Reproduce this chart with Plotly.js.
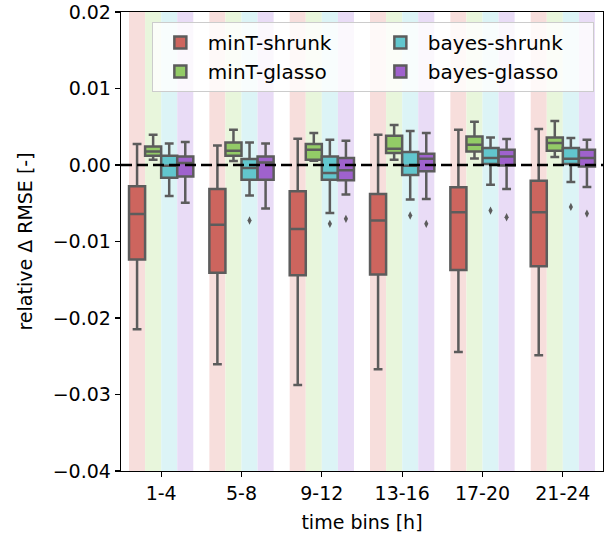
<!DOCTYPE html>
<html><head><meta charset="utf-8">
<script src="https://cdn.plot.ly/plotly-3.0.1.min.js"></script>
<style>html,body{margin:0;padding:0;background:#fff}#chart{width:611px;height:538px}</style>
</head><body><div id="chart"></div>
<script>
const timeBins = ['1-4', '5-8', '9-12', '13-16', '17-20', '21-24'];
const seriesNames = ['minT-shrunk', 'minT-glasso', 'bayes-shrunk', 'bayes-glasso'];

// minT-shrunk
const mintShrunkUpper = [0.00274, 0.00256, 0.00343, 0.00395, 0.0046, 0.00469];
const mintShrunkQ3 = [-0.00279, -0.00313, -0.00344, -0.00378, -0.00292, -0.00205];
const mintShrunkMedian = [-0.00639, -0.00782, -0.00835, -0.00726, -0.00618, -0.00618];
const mintShrunkQ1 = [-0.01235, -0.01408, -0.0144, -0.0143, -0.01374, -0.01322];
const mintShrunkLower = [-0.02147, -0.02603, -0.02877, -0.02669, -0.02443, -0.02486];
const mintShrunkOutliers = [null, null, null, null, null, null];

// minT-glasso
const mintGlassoUpper = [0.00395, 0.0046, 0.00417, 0.00522, 0.00565, 0.00574];
const mintGlassoQ3 = [0.00243, 0.00295, 0.00274, 0.00382, 0.00373, 0.0036];
const mintGlassoMedian = [0.00177, 0.00186, 0.002, 0.00213, 0.00265, 0.00287];
const mintGlassoQ1 = [0.00121, 0.00121, 0.00069, 0.00156, 0.00177, 0.00186];
const mintGlassoLower = [0.00069, 0.00052, 0.00056, 0.00069, 0.00086, 0.00104];
const mintGlassoOutliers = [null, null, null, null, null, null];

// bayes-shrunk
const bayesShrunkUpper = [0.00282, 0.00295, 0.0033, 0.00443, 0.0036, 0.00352];
const bayesShrunkQ3 = [0.00121, 0.00078, 0.00112, 0.00169, 0.00222, 0.00222];
const bayesShrunkMedian = [-0.0001, -0.00039, -0.00104, -0.0001, 0.00091, 0.00082];
const bayesShrunkQ1 = [-0.00166, -0.00192, -0.00192, -0.0013, 0.00013, 0.00013];
const bayesShrunkLower = [-0.00404, -0.004, -0.00626, -0.00452, -0.00257, -0.00222];
const bayesShrunkOutliers = [null, -0.00726, -0.00769, -0.00661, -0.00596, -0.00548];

// bayes-glasso
const bayesGlassoUpper = [0.003, 0.00282, 0.00317, 0.00417, 0.00339, 0.0033];
const bayesGlassoQ3 = [0.00112, 0.00112, 0.00091, 0.00147, 0.002, 0.002];
const bayesGlassoMedian = [0.00026, 0.00034, -0.0007, 0.00082, 0.00112, 0.00091];
const bayesGlassoQ1 = [-0.00149, -0.00192, -0.002, -0.00083, -0.00005, -0.00018];
const bayesGlassoLower = [-0.00492, -0.0057, -0.00387, -0.00443, -0.00313, -0.00287];
const bayesGlassoOutliers = [null, null, -0.00704, -0.00769, -0.00683, -0.00635];

const yTickVals = [-0.04, -0.03, -0.02, -0.01, 0, 0.01, 0.02];

const stats = [
  {u: mintShrunkUpper, q3: mintShrunkQ3, m: mintShrunkMedian, q1: mintShrunkQ1, l: mintShrunkLower, o: mintShrunkOutliers},
  {u: mintGlassoUpper, q3: mintGlassoQ3, m: mintGlassoMedian, q1: mintGlassoQ1, l: mintGlassoLower, o: mintGlassoOutliers},
  {u: bayesShrunkUpper, q3: bayesShrunkQ3, m: bayesShrunkMedian, q1: bayesShrunkQ1, l: bayesShrunkLower, o: bayesShrunkOutliers},
  {u: bayesGlassoUpper, q3: bayesGlassoQ3, m: bayesGlassoMedian, q1: bayesGlassoQ1, l: bayesGlassoLower, o: bayesGlassoOutliers}
];

const fillColors = ['#cd655e', '#93cb67', '#62c6cd', '#9f62cd'];
const bandColors = ['#f7dedc', '#e8f6dc', '#dcf4f6', '#e9dcf6'];
const edgeColor = '#5c5c5c';
const legendRanks = [1, 3, 2, 4];
const FONT = 'DejaVu Sans, sans-serif';

const boxTraces = seriesNames.map((name, k) => ({
  type: 'box',
  name: name,
  x: timeBins,
  q1: stats[k].q1,
  median: stats[k].m,
  q3: stats[k].q3,
  lowerfence: stats[k].l,
  upperfence: stats[k].u,
  boxpoints: false,
  offsetgroup: 'g' + k,
  alignmentgroup: 'main',
  fillcolor: fillColors[k],
  line: {color: edgeColor, width: 2.5},
  whiskerwidth: 0.55,
  legendrank: legendRanks[k],
  hoverinfo: 'skip'
}));

const outlierTraces = seriesNames.map((name, k) => ({
  type: 'scatter',
  mode: 'markers',
  name: name + ' outliers',
  x: timeBins,
  y: stats[k].o,
  offsetgroup: 'g' + k,
  alignmentgroup: 'main',
  marker: {symbol: 'diamond-tall', size: 6, color: edgeColor, line: {width: 0}},
  showlegend: false,
  hoverinfo: 'skip'
}));

const shapes = [];
timeBins.forEach((c, i) => {
  seriesNames.forEach((s, k) => {
    shapes.push({
      type: 'rect', layer: 'below', xref: 'x', yref: 'paper',
      x0: i - 0.4 + k * 0.2, x1: i - 0.4 + (k + 1) * 0.2, y0: 0, y1: 1,
      fillcolor: bandColors[k], line: {width: 0}
    });
  });
});
shapes.push({
  type: 'line', layer: 'above', xref: 'paper', yref: 'y',
  x0: 0, x1: 1, y0: 0, y1: 0,
  line: {color: '#000', width: 2.5, dash: '11px,5px'}
});

const axisCommon = {
  showline: true, mirror: true, linecolor: '#000', linewidth: 1.25,
  ticks: 'outside', ticklen: 5, tickwidth: 1.25, tickcolor: '#000',
  showgrid: false, zeroline: false,
  tickfont: {family: FONT, size: 19, color: '#000'}
};

const layout = {
  width: 611, height: 538,
  margin: {l: 121, r: 8, t: 12, b: 67},
  paper_bgcolor: '#fff', plot_bgcolor: '#fff',
  font: {family: FONT, color: '#000'},
  boxmode: 'group', boxgap: 0.2, boxgroupgap: 0,
  scattermode: 'group', scattergap: 0.2,
  showlegend: true,
  legend: {
    orientation: 'h', x: 0.064, y: 0.978, xanchor: 'left', yanchor: 'top',
    bgcolor: 'rgba(255,255,255,0.8)', bordercolor: '#cccccc', borderwidth: 1,
    font: {family: FONT, size: 20, color: '#000'},
    entrywidth: 160, itemwidth: 45, traceorder: 'normal'
  },
  xaxis: Object.assign({}, axisCommon, {
    type: 'category', categoryorder: 'array', categoryarray: timeBins,
    range: [-0.5, 5.5],
    title: {text: 'time bins [h]', font: {family: FONT, size: 19, color: '#000'}, standoff: 12}
  }),
  yaxis: Object.assign({}, axisCommon, {
    range: [-0.04, 0.02], tickvals: yTickVals, tickformat: '.2f',
    title: {text: 'relative Δ RMSE [-]', font: {family: FONT, size: 19, color: '#000'}, standoff: 15}
  }),
  shapes: shapes
};

Plotly.newPlot('chart', boxTraces.concat(outlierTraces), layout, {staticPlot: true, displayModeBar: false});
</script>
</body></html>
